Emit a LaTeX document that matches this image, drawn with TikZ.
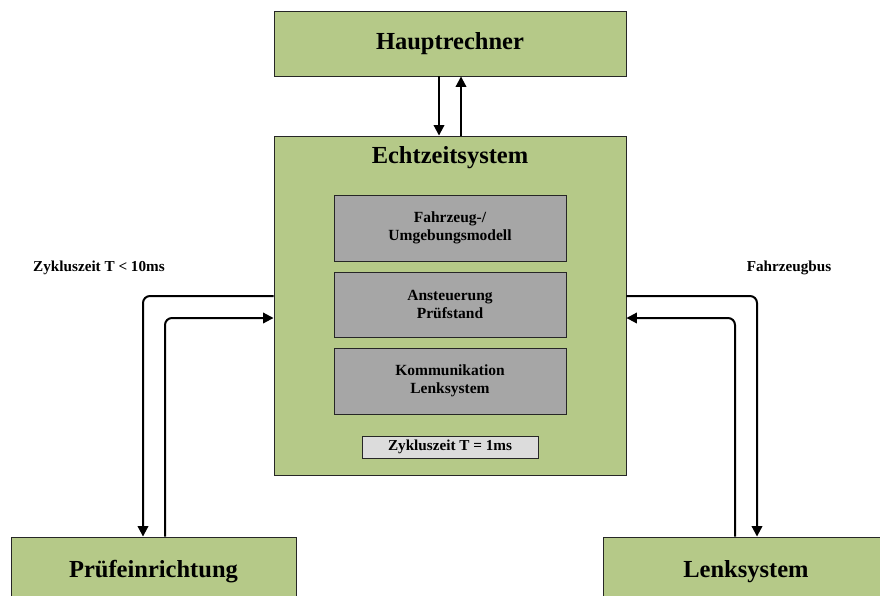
\documentclass[tikz,border=0pt]{standalone}
\usepackage{fontspec}
\setmainfont{Liberation Serif}
\usetikzlibrary{arrows.meta}
\definecolor{boxgreen}{HTML}{B5C988}
\definecolor{modgrey}{HTML}{A6A6A6}
\definecolor{lightgrey}{HTML}{DCDCDC}
\tikzset{
  mainbox/.style={draw=black!85, line width=0.9pt, fill=boxgreen, inner sep=0pt,
    font=\fontsize{24.5}{28}\selectfont\bfseries},
  modbox/.style={draw=black!85, line width=0.9pt, fill=modgrey, inner sep=0pt,
    minimum width=232pt, minimum height=66pt, align=center,
    font=\fontsize{15.5}{18.5}\selectfont\bfseries},
  cyclebox/.style={draw=black!85, line width=0.9pt, fill=lightgrey, inner sep=0pt,
    minimum width=176pt, minimum height=22pt, font=\fontsize{15.2}{17}\selectfont\bfseries},
  lbl/.style={font=\fontsize{15.2}{17}\selectfont\bfseries, inner sep=0pt},
  conn/.style={line width=2pt, rounded corners=7pt,
    -{Triangle[length=10.5pt,width=10.5pt]}}
}
\begin{document}
\begin{tikzpicture}[x=1pt,y=-1pt]
\clip (0,0) rectangle (880,595);
\fill[white] (0,0) rectangle (880,595);

% main blocks
\node[mainbox, minimum width=352pt, minimum height=65pt] (haupt) at (450,43.5) {Hauptrechner};
\node[mainbox, minimum width=352pt, minimum height=339pt] (ech) at (450,305.5) {};
\node[font=\fontsize{24.5}{28}\selectfont\bfseries, inner sep=0pt] (echtitle) at (450,158) {Echtzeitsystem};
\node[mainbox, minimum width=285pt, minimum height=70pt] (pruef) at (153.5,572) {Prüfeinrichtung};
\node[mainbox, minimum width=286pt, minimum height=70pt] (lenk) at (746,572) {Lenksystem};

% software modules inside the real-time system
\node[modbox] (model) at (450,228) {Fahrzeug-/\\Umgebungsmodell};
\node[modbox, minimum height=65pt] (stand) at (450,304.5) {Ansteuerung\\Prüfstand};
\node[modbox] (komm) at (450,381) {Kommunikation\\Lenksystem};
\node[cyclebox] (cycle) at (450,447) {Zykluszeit T = 1ms};

% labels
\node[lbl] (lblleft) at (99,268) {Zykluszeit T < 10ms};
\node[lbl] (lblright) at (789,268) {Fahrzeugbus};

% routing points
\coordinate (lo) at (143,296);
\coordinate (li) at (165,318);
\coordinate (ro) at (757,296);
\coordinate (ri) at (735,318);
\coordinate (td) at (439,0);
\coordinate (tu) at (461,0);

% connectors
\draw[conn] (haupt.south-|td) -- (ech.north-|td);
\draw[conn] (ech.north-|tu) -- (haupt.south-|tu);
\draw[conn] (ech.west|-lo) -| (pruef.north-|lo);
\draw[conn] (pruef.north-|li) |- (ech.west|-li);
\draw[conn] (ech.east|-ro) -| (lenk.north-|ro);
\draw[conn] (lenk.north-|ri) |- (ech.east|-ri);
\end{tikzpicture}
\end{document}
